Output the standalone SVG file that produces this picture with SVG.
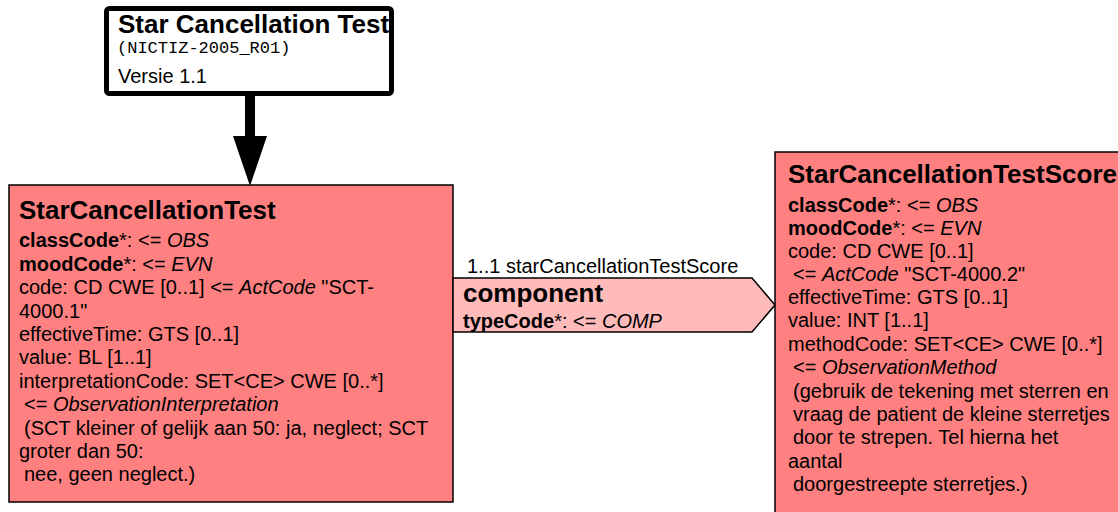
<svg xmlns="http://www.w3.org/2000/svg" width="1118" height="512" viewBox="0 0 1118 512">
<style>
text{font-family:"Liberation Sans",Arial,sans-serif;font-size:20px;fill:#000}
.t{font-weight:bold;font-size:26px}
.b{font-weight:bold}
.i{font-style:italic}
.m{font-family:"Liberation Mono","Courier New",monospace;font-size:17px}
.cls{fill:#FF8080;stroke:#000;stroke-width:1.5}
</style>
<rect width="1118" height="512" fill="#fff"/>
<g id="connectors">
<rect x="245" y="94" width="10" height="43" fill="#000"/>
<polygon points="233,136 267,136 250,186" fill="#000"/>
</g>
<g id="title">
<rect x="106.5" y="8.5" width="285" height="85" rx="3" fill="#fff" stroke="#000" stroke-width="5"/>
<text x="118" y="33" class="t">Star Cancellation Test</text>
<text x="117" y="53" class="m">(NICTIZ-2005_R01)</text>
<text x="118" y="83">Versie 1.1</text>
</g>
<g id="StarCancellationTest">
<rect x="9" y="185" width="444" height="317" class="cls"/>
<text x="19" y="219" class="t">StarCancellationTest</text>
<text x="19" y="247"><tspan class="b">classCode</tspan>*: &lt;= <tspan class="i">OBS</tspan></text>
<text x="19" y="271"><tspan class="b">moodCode</tspan>*: &lt;= <tspan class="i">EVN</tspan></text>
<text x="19" y="294">code: CD CWE [0..1] &lt;= <tspan class="i">ActCode</tspan> "SCT-</text>
<text x="19" y="318">4000.1"</text>
<text x="19" y="341">effectiveTime: GTS [0..1]</text>
<text x="19" y="364">value: BL [1..1]</text>
<text x="19" y="388">interpretationCode: SET&lt;CE&gt; CWE [0..*]</text>
<text x="24" y="411">&lt;= <tspan class="i">ObservationInterpretation</tspan></text>
<text x="24" y="435">(SCT kleiner of gelijk aan 50: ja, neglect; SCT</text>
<text x="19" y="458">groter dan 50:</text>
<text x="24" y="481">nee, geen neglect.)</text>
</g>
<g id="component">
<polygon points="453,278 752,278 775,305 752,332 453,332" fill="#FFBABA" stroke="#000" stroke-width="1.5"/>
<text x="467" y="273">1..1 starCancellationTestScore</text>
<text x="463" y="302" class="t">component</text>
<text x="463" y="328"><tspan class="b">typeCode</tspan>*: &lt;= <tspan class="i">COMP</tspan></text>
</g>
<g id="StarCancellationTestScore">
<rect x="775" y="152" width="350" height="370" class="cls"/>
<text x="788" y="183" class="t">StarCancellationTestScore</text>
<text x="788" y="212"><tspan class="b">classCode</tspan>*: &lt;= <tspan class="i">OBS</tspan></text>
<text x="788" y="235"><tspan class="b">moodCode</tspan>*: &lt;= <tspan class="i">EVN</tspan></text>
<text x="788" y="258">code: CD CWE [0..1]</text>
<text x="793" y="281">&lt;= <tspan class="i">ActCode</tspan> "SCT-4000.2"</text>
<text x="788" y="304">effectiveTime: GTS [0..1]</text>
<text x="788" y="327">value: INT [1..1]</text>
<text x="788" y="351">methodCode: SET&lt;CE&gt; CWE [0..*]</text>
<text x="793" y="374">&lt;= <tspan class="i">ObservationMethod</tspan></text>
<text x="793" y="398">(gebruik de tekening met sterren en</text>
<text x="793" y="421">vraag de patient de kleine sterretjes</text>
<text x="793" y="444">door te strepen. Tel hierna het</text>
<text x="788" y="468">aantal</text>
<text x="793" y="491">doorgestreepte sterretjes.)</text>
</g>
</svg>
